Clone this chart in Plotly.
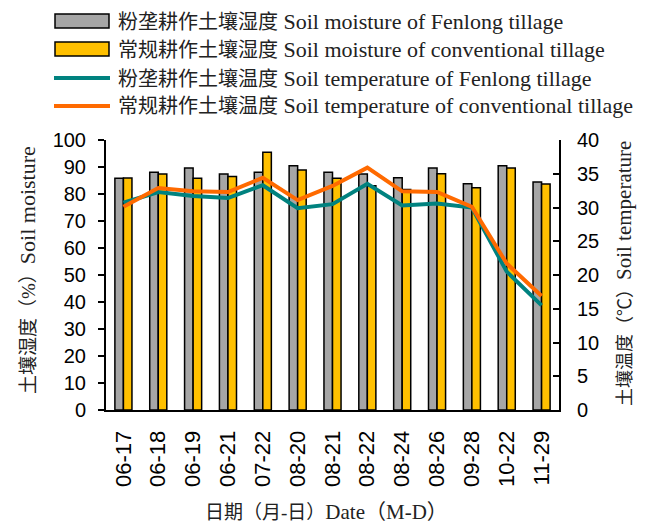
import plotly.graph_objects as go

dates = ["06-17", "06-18", "06-19", "06-21", "07-22", "08-20", "08-21",
         "08-22", "08-24", "08-26", "09-28", "10-22", "11-29"]

moist_fenlong = [85.8, 88.1, 89.6, 87.4, 88.1, 90.5, 88.1, 87.4, 86.0, 89.6, 83.8, 90.5, 84.4]
moist_conv = [85.9, 87.4, 85.8, 86.5, 95.5, 88.9, 85.8, 83.1, 81.7, 87.5, 82.3, 89.6, 83.7]
temp_fenlong = [30.7, 32.3, 31.7, 31.4, 33.3, 29.9, 30.5, 33.5, 30.3, 30.6, 30.0, 20.5, 15.5]
temp_conv = [30.1, 32.9, 32.4, 32.3, 34.4, 31.1, 33.2, 35.9, 32.4, 32.3, 30.1, 21.7, 16.9]

names_cn = ["粉垄耕作土壤湿度", "常规耕作土壤湿度", "粉垄耕作土壤温度", "常规耕作土壤温度"]
names_en = ["Soil moisture of Fenlong tillage",
            "Soil moisture of conventional tillage",
            "Soil temperature of Fenlong tillage",
            "Soil temperature of conventional tillage"]

GRAY, YELLOW, TEAL, ORANGE = "#A6A6A6", "#FFC000", "#00827F", "#FF6A00"
SERIF = "Liberation Serif, Noto Sans CJK SC, serif"
SANS = "Liberation Sans, Arial, sans-serif"

W, H = 645, 523
ML, MR, MT, MB = 106, 86, 140, 113
PW, PH = W - ML - MR, H - MT - MB


def px(x):
    return (x - ML) / PW


def py(y):
    return (H - MB - y) / PH


def mixed(cn, en, cn_size, en_size):
    """Chinese part and Latin part set at their own sizes."""
    return (f'<span style="font-size:{cn_size}px">{cn}</span>'
            f'<span style="font-size:{en_size}px">{en}</span>')


fig = go.Figure()
fig.add_trace(go.Bar(x=dates, y=moist_fenlong, name=f"{names_cn[0]} {names_en[0]}",
                     marker=dict(color=GRAY, line=dict(color="black", width=1.5))))
fig.add_trace(go.Bar(x=dates, y=moist_conv, name=f"{names_cn[1]} {names_en[1]}",
                     marker=dict(color=YELLOW, line=dict(color="black", width=1.5))))
fig.add_trace(go.Scatter(x=dates, y=temp_fenlong, name=f"{names_cn[2]} {names_en[2]}",
                         mode="lines", line=dict(color=TEAL, width=4), yaxis="y2"))
fig.add_trace(go.Scatter(x=dates, y=temp_conv, name=f"{names_cn[3]} {names_en[3]}",
                         mode="lines", line=dict(color=ORANGE, width=4), yaxis="y2"))

# legend drawn by hand: wide swatches on the left, text to the right
shapes, annotations = [], []
rows = [21, 49, 78, 106]
for i, yc in enumerate(rows):
    if i < 2:
        shapes.append(dict(type="rect", xref="paper", yref="paper",
                           x0=px(55), x1=px(109), y0=py(yc - 7), y1=py(yc + 7),
                           fillcolor=[GRAY, YELLOW][i],
                           line=dict(color="black", width=1.5)))
    else:
        shapes.append(dict(type="line", xref="paper", yref="paper",
                           x0=px(54), x1=px(110), y0=py(yc), y1=py(yc),
                           line=dict(color=[TEAL, ORANGE][i - 2], width=4)))
    annotations.append(dict(text=mixed(names_cn[i], " " + names_en[i], 20, 22),
                            xref="paper", yref="paper",
                            x=px(116), y=py(yc), xanchor="left", yanchor="middle",
                            showarrow=False,
                            font=dict(family=SERIF, size=20, color="#222")))

# axis titles
annotations.append(dict(text=mixed("土壤湿度（%）", "Soil moisture", 19, 22),
                        xref="paper", yref="paper",
                        x=px(27), y=py(270), textangle=-90, showarrow=False,
                        xanchor="center", yanchor="middle",
                        font=dict(family=SERIF, size=19, color="#222")))
annotations.append(dict(text=mixed("土壤温度（℃）", "Soil temperature", 18, 21),
                        xref="paper", yref="paper",
                        x=px(624), y=py(274), textangle=-90, showarrow=False,
                        xanchor="center", yanchor="middle",
                        font=dict(family=SERIF, size=19, color="#222")))
annotations.append(dict(text=mixed("日期（月-日）", "Date（M-D）", 19, 21),
                        xref="paper", yref="paper",
                        x=px(326), y=py(512), showarrow=False,
                        xanchor="center", yanchor="middle",
                        font=dict(family=SERIF, size=19, color="#222")))

fig.update_layout(
    width=W, height=H,
    margin=dict(l=ML, r=MR, t=MT, b=MB),
    paper_bgcolor="white", plot_bgcolor="white",
    barmode="group", bargap=0.51, bargroupgap=0,
    showlegend=False,
    shapes=shapes, annotations=annotations,
    xaxis=dict(type="category", tickangle=-90,
               tickfont=dict(family=SANS, size=22, color="black"),
               showline=True, linecolor="black", linewidth=2,
               ticks="", showgrid=False, ticklabelstandoff=10),
    yaxis=dict(range=[0, 100], dtick=10,
               tickfont=dict(family=SANS, size=20, color="black"),
               showline=True, linecolor="black", linewidth=2,
               ticks="outside", ticklen=6, tickwidth=1.5, tickcolor="black",
               showgrid=False, zeroline=False, ticklabelstandoff=8),
    yaxis2=dict(range=[0, 40], dtick=5, overlaying="y", side="right",
                tickfont=dict(family=SANS, size=20, color="black"),
                showline=True, linecolor="black", linewidth=2,
                ticks="inside", ticklen=6, tickwidth=1.5, tickcolor="black",
                showgrid=False, zeroline=False, ticklabelstandoff=12),
)

fig.write_html("out.html")
